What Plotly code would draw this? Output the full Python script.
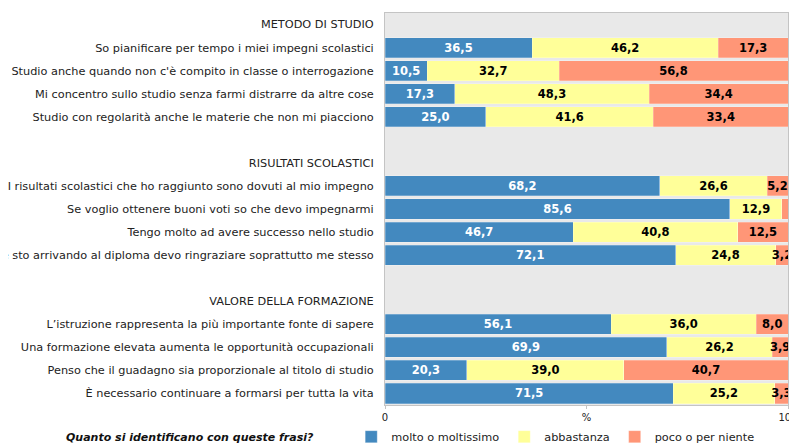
import plotly.graph_objects as go

# categories per section (header, items)
sections = ["METODO DI STUDIO", "RISULTATI SCOLASTICI", "VALORE DELLA FORMAZIONE"]
items_metodo = [
    "So pianificare per tempo i miei impegni scolastici",
    "Studio anche quando non c'è compito in classe o interrogazione",
    "Mi concentro sullo studio senza farmi distrarre da altre cose",
    "Studio con regolarità anche le materie che non mi piacciono",
]
items_risultati = [
    "I risultati scolastici che ho raggiunto sono dovuti al mio impegno",
    "Se voglio ottenere buoni voti so che devo impegnarmi",
    "Tengo molto ad avere successo nello studio",
    "Se sto arrivando al diploma devo ringraziare soprattutto me stesso",
]
items_valore = [
    "L’istruzione rappresenta la più importante fonte di sapere",
    "Una formazione elevata aumenta le opportunità occupazionali",
    "Penso che il guadagno sia proporzionale al titolo di studio",
    "È necessario continuare a formarsi per tutta la vita",
]

molto = [36.5, 10.5, 17.3, 25.0, 68.2, 85.6, 46.7, 72.1, 56.1, 69.9, 20.3, 71.5]
abbastanza = [46.2, 32.7, 48.3, 41.6, 26.6, 12.9, 40.8, 24.8, 36.0, 26.2, 39.0, 25.2]
poco = [17.3, 56.8, 34.4, 33.4, 5.2, 1.5, 12.5, 3.2, 8.0, 3.9, 40.7, 3.3]

series_names = ["molto o moltissimo", "abbastanza", "poco o per niente"]
colors = ["#4389BF", "#FFFF99", "#FF9677"]
text_colors = ["white", "black", "black"]

# build the row order: header, items, spacer
rows = []
row_index = []  # which data index each row maps to (None for header/spacer)
k = 0
groups = [items_metodo, items_risultati, items_valore]
for s, (head, items) in enumerate(zip(sections, groups)):
    rows.append(head)
    row_index.append(None)
    for it in items:
        rows.append(it)
        row_index.append(k)
        k += 1
    if s < len(sections) - 1:
        rows.append(" " * (s + 1))
        row_index.append(None)


def fmt(v):
    # small slices are left unlabelled in the original
    return "" if v < 2 else f"{v:.1f}".replace(".", ",")


fig = go.Figure()
for name, vals, col, tcol in zip(series_names, [molto, abbastanza, poco], colors, text_colors):
    xs = [vals[i] if i is not None else None for i in row_index]
    txt = [fmt(vals[i]) if i is not None else "" for i in row_index]
    fig.add_trace(
        go.Bar(
            y=rows,
            x=xs,
            orientation="h",
            name=name,
            marker=dict(color=col, line=dict(color="rgba(255,255,255,0.5)", width=0.5)),
            text=txt,
            textposition="inside",
            insidetextanchor="middle",
            constraintext="none",
            textfont=dict(family="DejaVu Sans", size=11.5, color=tcol, weight="bold"),
            textangle=0,
            hoverinfo="skip",
        )
    )

# page body has an 8px margin, so the figure is sized to fit the rest
fig.update_layout(
    width=789,
    height=436,
    barmode="stack",
    bargap=0.13,
    margin=dict(l=377, r=9, t=5, b=39, autoexpand=False),
    plot_bgcolor="#E9E9E9",
    paper_bgcolor="white",
    font=dict(family="DejaVu Sans", size=11.3, color="#222222"),
    showlegend=True,
    legend=dict(
        orientation="h",
        xref="container",
        x=0.435,
        xanchor="left",
        yref="container",
        y=0.05,
        yanchor="top",
        font=dict(size=11.3, color="#222222"),
        itemwidth=30,
        traceorder="normal",
        bgcolor="rgba(0,0,0,0)",
    ),
)

fig.update_yaxes(
    type="category",
    categoryorder="array",
    categoryarray=rows,
    autorange="reversed",
    automargin=False,
    showline=True,
    linecolor="#C4C4C4",
    mirror=True,
    ticks="",
    ticklabelstandoff=8,
    showgrid=False,
)
fig.update_xaxes(
    range=[0, 100],
    tickmode="array",
    tickvals=[0, 50, 100],
    ticktext=["0", "%", "100"],
    automargin=False,
    ticklabeloverflow="allow",
    showline=True,
    linecolor="#C4C4C4",
    mirror=True,
    ticks="outside",
    ticklen=3,
    tickcolor="#C4C4C4",
    showgrid=False,
    zeroline=False,
    tickfont=dict(size=10, color="#222222"),
)

fig.add_annotation(
    text="<b><i>Quanto si identificano con queste frasi?</i></b>",
    xref="paper",
    yref="paper",
    x=-0.484,
    y=-0.082,
    xanchor="center",
    yanchor="middle",
    showarrow=False,
    font=dict(size=11, color="#111111"),
)

fig.write_html("out.html")
